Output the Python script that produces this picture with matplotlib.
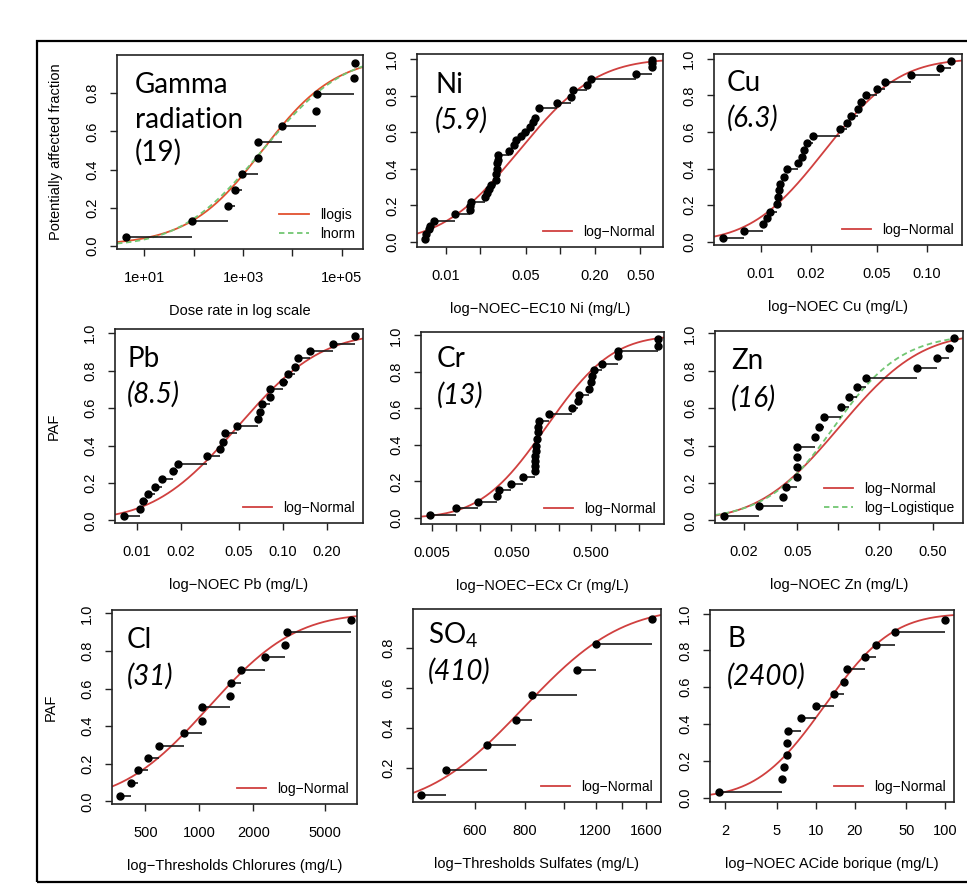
import math
import numpy as np
import matplotlib
matplotlib.use("Agg")
import matplotlib.pyplot as plt
from matplotlib.patches import Rectangle
from matplotlib.ticker import NullLocator

plt.rcParams['font.family'] = ['Liberation Sans', 'DejaVu Sans']
plt.rcParams['mathtext.fontset'] = 'custom'
plt.rcParams['mathtext.rm'] = 'Lato'
plt.rcParams['mathtext.it'] = 'Lato:italic'

W, H = 967, 892
RED = '#d0403f'
RED_GAMMA = '#e2502e'
GREEN = '#72c672'
TAG_FONT = 'Lato'

# ---- data (x in dose / mg/L, y = plotting position) ----
gamma_x = [4.26, 91.4, 490, 692, 973, 1995, 2050, 6120, 30000, 31400, 174000, 188000]
gamma_y = [0.044, 0.13, 0.21, 0.292, 0.378, 0.462, 0.544, 0.627, 0.709, 0.795, 0.878, 0.96]

ni_x = [0.00659, 0.00673, 0.00705, 0.00729, 0.00791, 0.01206, 0.01608, 0.0163, 0.01652,
        0.02204, 0.0228, 0.02388, 0.02486, 0.02732, 0.0275, 0.02787, 0.02805, 0.02825,
        0.02844, 0.03524, 0.03898, 0.04085, 0.04547, 0.04927, 0.05449, 0.0571, 0.06026,
        0.0653, 0.09316, 0.1242, 0.1302, 0.1703, 0.1845, 0.4592, 0.629, 0.6376, 0.6376]
ni_y = [0.015, 0.042, 0.069, 0.086, 0.115, 0.151, 0.173, 0.197, 0.219, 0.246, 0.268, 0.29,
        0.31, 0.34, 0.374, 0.40, 0.43, 0.45, 0.474, 0.50, 0.53, 0.557, 0.578, 0.602, 0.63,
        0.653, 0.679, 0.73, 0.76, 0.79, 0.83, 0.858, 0.888, 0.92, 0.954, 0.976, 0.995]

cu_x = [0.005871, 0.007931, 0.01033, 0.01082, 0.01133, 0.01243, 0.01272, 0.0129, 0.01302,
        0.01377, 0.01429, 0.0168, 0.01759, 0.01826, 0.01886, 0.02069, 0.02998, 0.03319,
        0.03477, 0.03868, 0.03996, 0.04301, 0.05035, 0.05601, 0.0804, 0.1208, 0.1401]
cu_y = [0.018, 0.058, 0.097, 0.128, 0.164, 0.206, 0.246, 0.283, 0.316, 0.356, 0.398, 0.43,
        0.465, 0.50, 0.54, 0.578, 0.615, 0.65, 0.688, 0.724, 0.763, 0.80, 0.834, 0.876,
        0.912, 0.949, 0.989]

pb_x = [0.00823, 0.01053, 0.01099, 0.01201, 0.01335, 0.01483, 0.01782, 0.01928, 0.03014,
        0.03719, 0.0392, 0.04025, 0.04838, 0.06809, 0.06991, 0.07178, 0.08185, 0.08185,
        0.09995, 0.1093, 0.1214, 0.128, 0.1538, 0.2222, 0.3128]
pb_y = [0.021, 0.062, 0.105, 0.142, 0.181, 0.222, 0.265, 0.302, 0.342, 0.381, 0.42, 0.466,
        0.505, 0.543, 0.582, 0.621, 0.662, 0.703, 0.742, 0.785, 0.822, 0.867, 0.907, 0.945,
        0.986]

cr_x = [0.004759, 0.01011, 0.01893, 0.03281, 0.03512, 0.04971, 0.0697, 0.0996, 0.0996,
        0.0996, 0.0996, 0.1016, 0.1016, 0.1046, 0.1076, 0.1097, 0.1119, 0.1509, 0.2881,
        0.3495, 0.3563, 0.4806, 0.4995, 0.5242, 0.5501, 0.6871, 1.0922, 1.0922, 3.545, 3.545]
cr_y = [0.018, 0.055, 0.086, 0.119, 0.155, 0.188, 0.224, 0.255, 0.283, 0.31, 0.338, 0.365,
        0.396, 0.434, 0.47, 0.50, 0.533, 0.571, 0.602, 0.639, 0.675, 0.708, 0.743, 0.779,
        0.812, 0.845, 0.885, 0.916, 0.943, 0.982]

zn_x = [0.01439, 0.02584, 0.03914, 0.04143, 0.04969, 0.04969, 0.04969, 0.04969, 0.06794,
        0.0719, 0.07828, 0.1053, 0.1213, 0.1382, 0.1594, 0.3804, 0.5353, 0.6604, 0.719]
zn_y = [0.025, 0.075, 0.126, 0.178, 0.231, 0.284, 0.338, 0.395, 0.444, 0.498, 0.551, 0.604,
        0.658, 0.711, 0.763, 0.816, 0.869, 0.923, 0.976]

cl_x = [362.5, 417.8, 453.2, 515.3, 593.5, 818.8, 1036.6, 1036.6, 1479.8, 1492.6, 1697,
        2311, 2988, 3066, 6986]
cl_y = [0.03, 0.097, 0.165, 0.23, 0.297, 0.366, 0.43, 0.5, 0.563, 0.632, 0.70, 0.766,
        0.832, 0.90, 0.965]

so4_x = [441, 510, 643, 758, 834, 1081, 1203, 1660]
so4_y = [0.065, 0.19, 0.315, 0.44, 0.566, 0.691, 0.817, 0.942]

b_x = [1.81, 5.55, 5.72, 6.0, 6.0, 6.1, 7.7, 10.0, 13.9, 16.7, 17.6, 24.2, 29.4, 41.3, 100]
b_y = [0.031, 0.10, 0.164, 0.231, 0.298, 0.364, 0.431, 0.50, 0.564, 0.631, 0.698, 0.764,
       0.831, 0.898, 0.964]

# fitted distributions, (location, scale) on log10 scale
gamma_llogis = (3.39, 0.75)
gamma_lnorm = (3.39, 1.30)
ni_lnorm = (-1.36, 0.53)
cu_lnorm = (-1.615, 0.35)
pb_lnorm = (-1.31, 0.45)
cr_lnorm = (-0.86, 0.65)
zn_lnorm = (-0.99, 0.47)
zn_llogis = (-1.03, 0.25)
cl_lnorm = (3.05, 0.38)
so4_lnorm = (2.90, 0.19)
b_lnorm = (1.07, 0.41)

erf = np.vectorize(math.erf)


def lnorm_cdf(x, par):
    return 0.5 * (1 + erf((np.log10(x) - par[0]) / (par[1] * math.sqrt(2))))


def llogis_cdf(x, par):
    return 1 / (1 + np.exp(-(np.log10(x) - par[0]) / par[1]))


fig = plt.figure(figsize=(W / 100, H / 100), dpi=100)
fig.patch.set_facecolor('white')


def panel(box, x, y, xlim, ylim, xticks, xlabels, yticks, xlabel, ylabel=None):
    x0, y0, x1, y1 = box
    w, h = x1 - x0, y1 - y0
    ax = fig.add_axes([x0 / W, 1 - y1 / H, w / W, h / H])
    ax.set_xscale('log')
    ax.set_xlim(xlim)
    ax.set_ylim(ylim)
    x = np.array(x)
    y = np.array(y)
    ax.hlines(y[:-1], x[:-1], x[1:], color='#1a1a1a', lw=1.2, zorder=3)
    ax.plot(x, y, 'o', color='black', ms=5, zorder=4)
    ax.set_xticks(xticks)
    ax.set_xticklabels(xlabels)
    ax.xaxis.set_minor_locator(NullLocator())
    ax.set_yticks(yticks)
    ax.set_yticklabels(['%.1f' % t for t in yticks])
    ax.tick_params(length=5, width=1.0, labelsize=10.5, color='#222222')
    ax.tick_params(axis='x', pad=11)
    ax.tick_params(axis='y', pad=8, labelrotation=90)
    for lab in ax.get_yticklabels():
        lab.set_va('center')
    for s in ax.spines.values():
        s.set_linewidth(1.2)
        s.set_color('#222222')
    ax.set_xlabel(xlabel, fontsize=10.5, va='center')
    ax.xaxis.set_label_coords(0.5, -62 / h)
    if ylabel:
        ax.set_ylabel(ylabel, fontsize=10.5, va='center')
        ax.yaxis.set_label_coords(-61 / w, 0.5)
    return ax


def curve(ax, cdf, par, color, ls='-', label=None):
    xs = np.logspace(*np.log10(ax.get_xlim()), 300)
    ax.plot(xs, cdf(xs, par), color=color, lw=1.3, ls=ls, label=label, zorder=2)


def tag(ax, lines, dx=16):
    for txt, dy, style in lines:
        ax.annotate(txt, (0, 1), xycoords='axes fraction', xytext=(dx, -dy),
                    textcoords='offset pixels', fontsize=20, family=TAG_FONT,
                    style=style, va='baseline', ha='left')


def legend(ax):
    ax.legend(loc='lower right', frameon=False, fontsize=10, handlelength=2.1,
              handletextpad=0.8, borderaxespad=0.2, labelspacing=0.35)


def lab(v):
    return ['%g' % t for t in v]


# row 1
ax = panel((117, 55, 363, 249), gamma_x, gamma_y, (2.79, 2.7e5), (-0.017, 1.001),
           [1e1, 1e2, 1e3, 1e4, 1e5], ['1e+01', '', '1e+03', '', '1e+05'],
           [0, 0.2, 0.4, 0.6, 0.8], 'Dose rate in log scale',
           'Potentially affected fraction')
curve(ax, llogis_cdf, gamma_llogis, RED_GAMMA, label='llogis')
curve(ax, lnorm_cdf, gamma_lnorm, GREEN, ls=(0, (3, 2)), label='lnorm')
legend(ax)
tag(ax, [('Gamma', 38, 'normal'), ('radiation', 73, 'normal'), ('(19)', 106, 'normal')], 18)

ax = panel((417, 54, 663, 247), ni_x, ni_y, (0.00558, 0.789), (-0.027, 1.027),
           [0.01, 0.02, 0.05, 0.1, 0.2, 0.5], ['0.01', '', '0.05', '', '0.20', '0.50'],
           [0, 0.2, 0.4, 0.6, 0.8, 1.0], 'log\u2212NOEC\u2212EC10 Ni (mg/L)')
curve(ax, lnorm_cdf, ni_lnorm, RED, label='log\u2212Normal')
legend(ax)
tag(ax, [('Ni', 39, 'normal'), ('(5.9)', 75, 'italic')], 18)

ax = panel((714, 54, 962, 245), cu_x, cu_y, (0.0052, 0.163), (-0.018, 1.027),
           [0.01, 0.02, 0.05, 0.1], ['0.01', '0.02', '0.05', '0.10'],
           [0, 0.2, 0.4, 0.6, 0.8, 1.0], 'log\u2212NOEC Cu (mg/L)')
curve(ax, lnorm_cdf, cu_lnorm, RED, label='log\u2212Normal')
legend(ax)
tag(ax, [('Cu', 37, 'normal'), ('(6.3)', 73, 'italic')], 13)

# row 2
ax = panel((115, 329, 363, 523), pb_x, pb_y, (0.0071, 0.355), (-0.014, 1.023),
           [0.01, 0.02, 0.05, 0.1, 0.2], ['0.01', '0.02', '0.05', '0.10', '0.20'],
           [0, 0.2, 0.4, 0.6, 0.8, 1.0], 'log\u2212NOEC Pb (mg/L)', 'PAF')
curve(ax, lnorm_cdf, pb_lnorm, RED, label='log\u2212Normal')
legend(ax)
tag(ax, [('Pb', 38, 'normal'), ('(8.5)', 74, 'italic')], 12)

ax = panel((421, 332, 664, 524), cr_x, cr_y, (0.00364, 4.18), (-0.033, 1.019),
           [0.005, 0.01, 0.02, 0.05, 0.1, 0.2, 0.5, 1, 2],
           ['0.005', '', '', '0.050', '', '', '0.500', '', ''],
           [0, 0.2, 0.4, 0.6, 0.8, 1.0], 'log\u2212NOEC\u2212ECx Cr (mg/L)')
curve(ax, lnorm_cdf, cr_lnorm, RED, label='log\u2212Normal')
legend(ax)
tag(ax, [('Cr', 35, 'normal'), ('(13)', 72, 'italic')], 16)

ax = panel((715, 331, 963, 523), zn_x, zn_y, (0.0123, 0.838), (-0.014, 1.013),
           [0.02, 0.05, 0.1, 0.2, 0.5], ['0.02', '0.05', '', '0.20', '0.50'],
           [0, 0.2, 0.4, 0.6, 0.8, 1.0], 'log\u2212NOEC Zn (mg/L)')
curve(ax, lnorm_cdf, zn_lnorm, RED, label='log\u2212Normal')
curve(ax, llogis_cdf, zn_llogis, GREEN, ls=(0, (3, 2)), label='log\u2212Logistique')
legend(ax)
tag(ax, [('Zn', 38, 'normal'), ('(16)', 76, 'italic')], 16)

# row 3
ax = panel((112, 610, 357, 804), cl_x, cl_y, (326, 7550), (-0.014, 1.018),
           [500, 1000, 2000, 5000], lab([500, 1000, 2000, 5000]),
           [0, 0.2, 0.4, 0.6, 0.8, 1.0], 'log\u2212Thresholds Chlorures (mg/L)', 'PAF')
curve(ax, lnorm_cdf, cl_lnorm, RED, label='log\u2212Normal')
legend(ax)
tag(ax, [('Cl', 38, 'normal'), ('(31)', 75, 'italic')], 15)

ax = panel((413, 609, 661, 802), so4_x, so4_y, (421, 1746), (0.028, 0.994),
           [600, 800, 1000, 1200, 1400, 1600], ['600', '800', '', '1200', '', '1600'],
           [0.2, 0.4, 0.6, 0.8], 'log\u2212Thresholds Sulfates (mg/L)')
curve(ax, lnorm_cdf, so4_lnorm, RED, label='log\u2212Normal')
legend(ax)
tag(ax, [('SO$_4$', 35, 'normal'), ('(410)', 71, 'italic')], 15)

ax = panel((710, 610, 954, 802), b_x, b_y, (1.53, 117), (-0.024, 1.02),
           [2, 5, 10, 20, 50, 100], lab([2, 5, 10, 20, 50, 100]),
           [0, 0.2, 0.4, 0.6, 0.8, 1.0], 'log\u2212NOEC ACide borique (mg/L)')
curve(ax, lnorm_cdf, b_lnorm, RED, label='log\u2212Normal')
legend(ax)
tag(ax, [('B', 37, 'normal'), ('(2400)', 75, 'italic')], 17)

# outer frame around the composite figure
fig.patches.append(Rectangle((37 / W, 1 - 882 / H), (980 - 37) / W, (882 - 41) / H,
                             transform=fig.transFigure, fill=False, lw=1.6,
                             edgecolor='black', clip_on=False))

fig.savefig('out.png', dpi=100)
